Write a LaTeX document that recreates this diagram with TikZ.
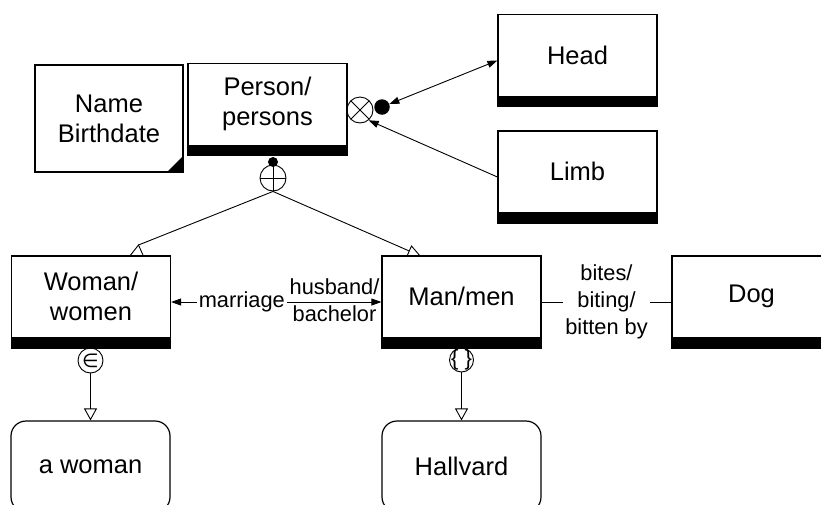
\documentclass[tikz,border=0pt]{standalone}
\usepackage{fontspec}
\setmainfont{Liberation Sans}
\newfontfamily\symfont{DejaVu Sans}
\usetikzlibrary{arrows.meta}
\newcommand\entfont{\fontsize{25.5}{30}\selectfont}
\newcommand\lblfont{\fontsize{21.8}{27}\selectfont}

\begin{document}
\begin{tikzpicture}[x=1pt,y=-1pt,
  % entity type: box with a black bar along its bottom edge
  ent/.style={draw, line width=1.2pt, minimum width=159pt, minimum height=92pt, inner sep=0pt,
    path picture={\fill (path picture bounding box.south west) rectangle ([yshift=11pt]path picture bounding box.south east);}},
  enttext/.style={font=\entfont, align=center, yshift=5.5pt, inner sep=0pt},
  % instance: rounded box
  inst/.style={draw, line width=1.2pt, rounded corners=15pt, minimum width=159pt, minimum height=91pt, font=\entfont},
  % attribute list: box with a filled corner
  attr/.style={draw, line width=1.2pt, minimum width=148pt, minimum height=107pt, align=center, font=\entfont,
    path picture={\fill ([xshift=-16pt]path picture bounding box.south east) -- (path picture bounding box.south east) -- ([yshift=16pt]path picture bounding box.south east) -- cycle;}},
  ring/.style={draw, circle, line width=0.9pt, inner sep=0pt, minimum size=26pt},
  plusring/.style={ring, path picture={\draw[line width=0.9pt] (path picture bounding box.north) -- (path picture bounding box.south) (path picture bounding box.west) -- (path picture bounding box.east);}},
  timesring/.style={ring, path picture={\draw[line width=0.9pt] ([shift={(45:13pt)}]path picture bounding box.center) -- ([shift={(225:13pt)}]path picture bounding box.center) ([shift={(135:13pt)}]path picture bounding box.center) -- ([shift={(315:13pt)}]path picture bounding box.center);}},
  symtext/.style={inner sep=0pt},
  dot/.style={fill, circle, inner sep=0pt},
  conn/.style={line width=0.9pt},
  tip/.style={conn, -{Triangle[length=10pt,width=7pt]}},
  twotips/.style={conn, {Triangle[length=10pt,width=7pt]}-{Triangle[length=10pt,width=7pt]}},
  opentip/.style={conn, -{Triangle[open, length=12pt, width=13pt]}},
  lbl/.style={font=\lblfont, inner sep=1pt},
]
\useasboundingbox (0,0) rectangle (821,504);
\clip (0,0) rectangle (821,504);

% entity types
\node[ent, label={[enttext]center:{Person/\\persons}}] (person) at (267.5,109.5) {};
\node[ent, label={[enttext]center:Head}] (head) at (577.5,60.5) {};
\node[ent, label={[enttext]center:Limb}] (limb) at (577.5,177) {};
\node[ent, label={[enttext]center:{Woman/\\women}}] (woman) at (91,302) {};
\node[ent, label={[enttext]center:Man/men}] (man) at (461.5,302) {};
\node[ent, label={[enttext]center:Dog}] (dog) at (751.5,302) {};

% attributes
\node[attr] (name) at (109,118.5) {Name\\Birthdate};

% instances
\node[inst] (awoman) at (90.5,466.5) {a woman};
\node[inst] (hallvard) at (461.5,466.5) {Hallvard};

% generalisation of Person into Woman and Man
\node[dot, minimum size=10pt] (pdot) at (273,162) {};
\node[plusring] (gen) at (273,178) {};
\coordinate (wtip) at (138.5,245);
\coordinate (mtip) at (411.5,246);
\coordinate (mend) at (409.3,251);
\draw[conn] (gen.south) -- (wtip);
\draw[conn] (gen.south) -- (mend);
\draw[conn] (wtip) -- ++(-8.3,10.5) -- ++(13,0) -- cycle;
\draw[conn] (mtip) -- ++(-4.7,10.5) -- ++(13.7,0) -- cycle;

% aggregation of Head and Limb into Person
\node[timesring] (agg) at (360,110) {};
\node[dot, minimum size=15.5pt] (hdot) at (382,107) {};
\draw[twotips] (hdot) -- (head.west);
\draw[tip] (limb.west) -- (agg.-50);

% relationships
\draw[twotips] (woman.east) -- (man.west)
  node[lbl, pos=0.336, fill=white, inner xsep=2pt] (marr) {marriage}
  node[lbl, pos=0.777, above=6pt] (hus) {husband/}
  node[lbl, pos=0.777, below=2pt] (bach) {bachelor};
\draw[conn] (man.east) -- (dog.west)
  node[lbl, midway, fill=white, align=center, inner xsep=2.5pt] (bite) {bites/\\biting/\\bitten by};

% classification into instances
\node[ring, minimum size=25pt, label={[symtext, font=\symfont\fontsize{19}{19}\selectfont]center:∈}] (elem) at (90.5,360.5) {};
\node[ring, minimum size=24pt, label={[symtext, font=\fontsize{22}{22}\selectfont]center:\{ \}}] (subset) at (461.5,360) {};
\draw[opentip] (elem) -- (awoman);
\draw[opentip] (subset) -- (hallvard);
\end{tikzpicture}
\end{document}
